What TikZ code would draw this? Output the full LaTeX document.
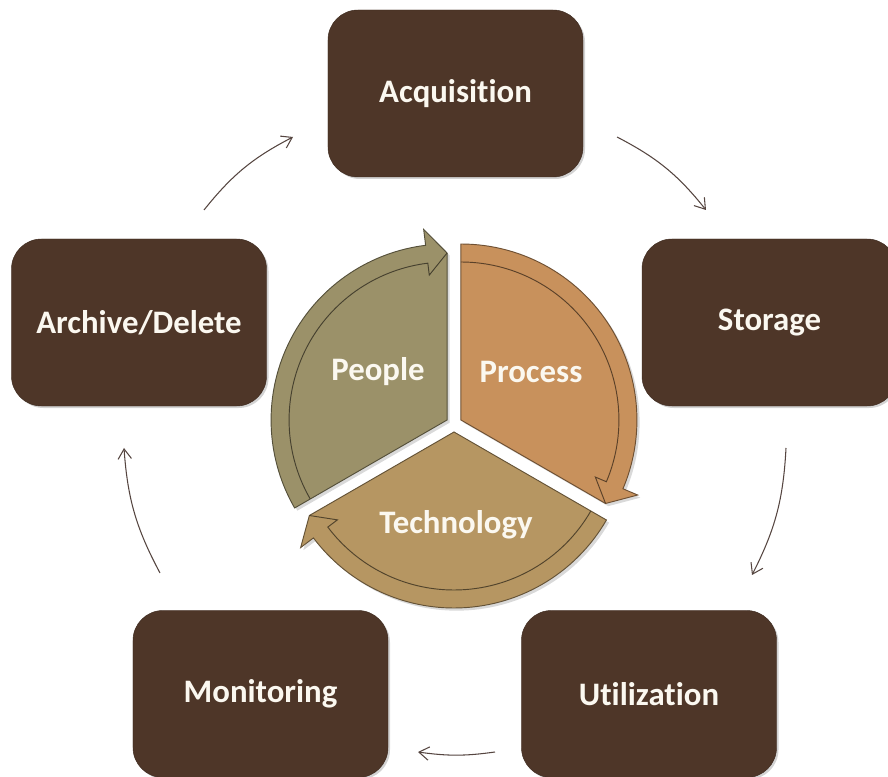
\documentclass[tikz,border=0pt]{standalone}
\usepackage{fontspec}
\setmainfont[Ligatures=NoCommon]{Carlito}
\usetikzlibrary{arrows.meta,shadows}

\definecolor{boxbrown}{HTML}{4E3628}
\definecolor{people}{HTML}{9B9169}
\definecolor{process}{HTML}{C8915C}
\definecolor{techno}{HTML}{B69662}
\definecolor{flowgray}{HTML}{554540}
\definecolor{label}{HTML}{FBF8F0}

\begin{document}
\begin{tikzpicture}[x=0.03cm, y=0.03cm,
    stage/.style={draw=boxbrown!80!black, fill=boxbrown, rounded corners=0.9cm,
      minimum width=7.65cm, minimum height=5.01cm, text=label,
      font=\fontsize{28}{32}\selectfont\bfseries,
      drop shadow={shadow xshift=0.6mm, shadow yshift=-0.6mm, opacity=0.35}},
    flow/.style={draw=flowgray, line width=0.9pt, -{Straight Barb[length=3mm,width=4mm]}},
    pielabel/.style={text=label, font=\fontsize{28}{32}\selectfont\bfseries}]
  \clip (0,0) rectangle (888,776);
  % stages
  \node[stage] (acq) at (455.5,682.5) {Acquisition};
  \node[stage] (sto) at (769.5,453.5) {Storage};
  \node[stage] (uti) at (649,82) {Utilization};
  \node[stage] (mon) at (260.5,82) {Monitoring};
  \node[stage] (arc) at (139,453.5) {Archive/Delete};
  % cycle arrows
  \coordinate (acq-out) at (617,639);
  \coordinate (sto-in) at (706,566);
  \coordinate (sto-out) at (786,328);
  \coordinate (uti-in) at (752,201);
  \coordinate (uti-out) at (495,24);
  \coordinate (mon-in) at (418,24);
  \coordinate (mon-out) at (160,203);
  \coordinate (arc-in) at (124,328);
  \coordinate (arc-out) at (204,566);
  \coordinate (acq-in) at (293,639);
  \draw[flow] (acq-out) to[bend left=12] (sto-in);
  \draw[flow] (sto-out) to[bend left=12] (uti-in);
  \draw[flow] (uti-out) to[bend left=8] (mon-in);
  \draw[flow] (mon-out) to[bend left=12] (arc-in);
  \draw[flow] (arc-out) to[bend left=12] (acq-in);
  % centre wheel
  \begin{scope}[shift={(454,352)}]
    \foreach \a/\b/\m/\col in {210/90/150/people, 90/-30/30/process, -30/-150/-90/techno}
    {
      \begin{scope}[shift={(\m:8)}]
        \fill[\col, draw=\col!55!black, line width=0.8pt,
          drop shadow={shadow xshift=0.8mm, shadow yshift=-0.8mm, opacity=0.3}]
          (0,0) -- (\a:176) arc[start angle=\a, end angle=\b+7, radius=176]
          -- (\b+7:192) -- (\b:167) -- cycle;
        \draw[\col!45!black, line width=0.8pt] (\a:158)
          arc[start angle=\a, end angle=\b+7, radius=158] -- (\b+7:146) -- (\b:167);
      \end{scope}
    }
  \end{scope}
  \node[pielabel] (peo) at (378,404) {People};
  \node[pielabel] (pro) at (531,404) {Process};
  \node[pielabel] (tec) at (456,251) {Technology};
\end{tikzpicture}
\end{document}
